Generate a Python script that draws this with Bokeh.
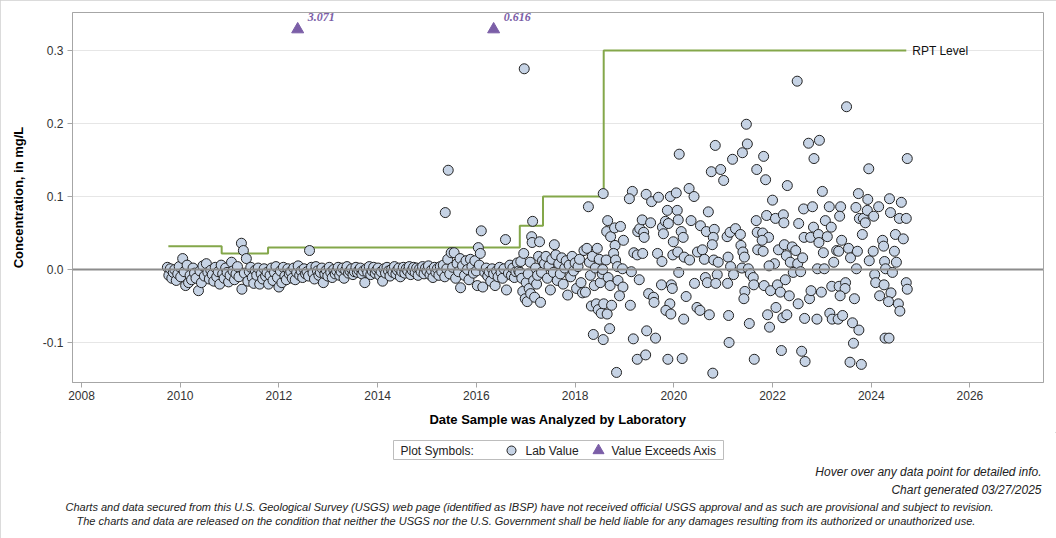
from bokeh.plotting import figure
from bokeh.models import Range1d, FixedTicker, PrintfTickFormatter, Span, Label, Title
from bokeh.layouts import column
from bokeh.core.properties import value
from bokeh.embed import file_html
from bokeh.resources import INLINE

FONT = "Liberation Sans"

# ---------------- data (decimal year, concentration mg/L) ----------------
early = [(2009.74, 0.003), (2009.77, -0.008), (2009.80, 0.001), (2009.83, -0.012), (2009.86, -0.004),
         (2009.89, 0.000), (2009.92, -0.015), (2009.95, -0.006), (2009.98, 0.004), (2010.01, -0.010),
         (2010.05, 0.015), (2010.08, -0.003), (2010.11, -0.022), (2010.14, 0.006), (2010.17, -0.018),
         (2010.20, -0.008), (2010.23, -0.014), (2010.26, 0.002), (2010.29, -0.005), (2010.32, -0.012),
         (2010.37, -0.029), (2010.40, -0.002), (2010.43, -0.018), (2010.46, 0.005), (2010.49, -0.009),
         (2010.53, 0.008), (2010.56, -0.004), (2010.59, -0.013), (2010.62, -0.001), (2010.65, -0.007),
         (2010.68, -0.016), (2010.71, 0.003), (2010.74, -0.010), (2010.77, -0.003), (2010.80, -0.020),
         (2010.83, 0.006), (2010.86, -0.006), (2010.89, -0.012), (2010.92, 0.002), (2010.95, -0.004),
         (2010.98, -0.017), (2011.01, -0.008), (2011.04, 0.010), (2011.07, -0.002), (2011.10, -0.014),
         (2011.13, -0.006), (2011.16, 0.004), (2011.19, -0.010), (2011.24, 0.036), (2011.25, -0.027),
         (2011.28, 0.026), (2011.30, -0.005), (2011.34, 0.015), (2011.37, -0.016), (2011.40, -0.003),
         (2011.43, 0.003), (2011.46, -0.011), (2011.49, -0.019), (2011.52, -0.001), (2011.55, -0.008),
         (2011.58, 0.002), (2011.61, -0.020), (2011.64, -0.006), (2011.67, -0.013), (2011.70, 0.001),
         (2011.73, -0.009), (2011.76, -0.004), (2011.79, -0.020)]

middle = [(2011.82, -0.008), (2011.85, 0.002), (2011.88, -0.015), (2011.91, -0.004), (2011.94, 0.004),
          (2011.97, -0.011), (2012.00, -0.024), (2012.03, -0.002), (2012.06, -0.018), (2012.09, 0.003),
          (2012.12, -0.009), (2012.15, -0.014), (2012.18, 0.001), (2012.21, -0.006), (2012.24, -0.003),
          (2012.27, -0.012), (2012.30, 0.002), (2012.33, -0.014), (2012.36, -0.004), (2012.39, 0.005),
          (2012.42, -0.008), (2012.45, -0.002), (2012.48, -0.011), (2012.51, 0.001), (2012.54, -0.006),
          (2012.57, -0.003), (2012.60, -0.009), (2012.62, 0.026), (2012.66, 0.003), (2012.69, -0.005),
          (2012.72, -0.013), (2012.75, 0.004), (2012.78, -0.002), (2012.81, -0.008), (2012.84, -0.004),
          (2012.87, 0.002), (2012.90, -0.018), (2012.93, -0.006), (2012.96, -0.001), (2012.99, -0.009),
          (2013.02, 0.003), (2013.05, -0.004), (2013.08, -0.011), (2013.11, 0.000), (2013.14, -0.006),
          (2013.17, -0.002), (2013.20, 0.003), (2013.23, -0.008), (2013.26, -0.003), (2013.29, 0.002),
          (2013.32, -0.012), (2013.35, -0.001), (2013.38, 0.004), (2013.41, -0.005), (2013.44, -0.002),
          (2013.47, 0.001), (2013.50, -0.007), (2013.53, -0.003), (2013.56, 0.003), (2013.59, -0.004),
          (2013.62, -0.001), (2013.65, 0.002), (2013.68, -0.006), (2013.71, -0.002), (2013.74, -0.018),
          (2013.77, 0.001), (2013.80, -0.004), (2013.83, 0.004), (2013.86, -0.007), (2013.89, -0.002),
          (2013.92, 0.003), (2013.95, -0.005), (2013.98, -0.001), (2014.01, 0.002), (2014.04, -0.008),
          (2014.07, -0.003), (2014.10, -0.016), (2014.13, 0.001), (2014.16, -0.005), (2014.19, 0.003),
          (2014.22, -0.002), (2014.25, -0.009), (2014.28, 0.000), (2014.31, -0.004), (2014.34, 0.004),
          (2014.37, -0.006), (2014.40, -0.001), (2014.43, 0.002), (2014.46, -0.010), (2014.49, -0.003),
          (2014.52, 0.003), (2014.55, -0.005), (2014.58, 0.001), (2014.61, -0.002), (2014.64, 0.004),
          (2014.67, -0.007), (2014.70, -0.001), (2014.73, 0.003), (2014.76, -0.004), (2014.79, 0.002),
          (2014.82, -0.008), (2014.85, 0.001), (2014.88, -0.003), (2014.91, 0.004), (2014.94, -0.006),
          (2014.97, 0.002), (2015.00, -0.002), (2015.03, 0.005), (2015.06, -0.007), (2015.09, -0.001),
          (2015.12, -0.011), (2015.15, 0.003), (2015.18, -0.004), (2015.21, 0.001), (2015.24, -0.008),
          (2015.27, 0.004), (2015.30, -0.003), (2015.33, 0.006), (2015.36, -0.010), (2015.37, 0.078),
          (2015.40, 0.001), (2015.42, 0.014), (2015.43, 0.136), (2015.46, -0.006), (2015.49, 0.023),
          (2015.52, 0.003), (2015.55, 0.023), (2015.58, -0.012), (2015.61, 0.008), (2015.64, -0.003),
          (2015.67, 0.015), (2015.68, -0.025), (2015.72, 0.005), (2015.76, -0.008), (2015.79, 0.012),
          (2015.82, 0.000), (2015.85, -0.014), (2015.88, 0.014), (2015.91, 0.004), (2015.94, -0.005),
          (2015.97, 0.012), (2016.00, -0.002), (2016.02, -0.022), (2016.04, 0.030), (2016.06, 0.006),
          (2016.08, 0.022), (2016.10, 0.053), (2016.13, -0.024), (2016.17, -0.004), (2016.20, 0.002),
          (2016.23, -0.009), (2016.26, -0.003), (2016.29, -0.016), (2016.32, 0.001), (2016.35, -0.006),
          (2016.38, -0.022), (2016.41, -0.002), (2016.44, -0.010), (2016.47, 0.003), (2016.50, -0.004),
          (2016.53, -0.012), (2016.56, 0.001), (2016.59, 0.041), (2016.61, -0.028), (2016.65, -0.005),
          (2016.68, 0.006), (2016.71, -0.008), (2016.74, 0.002), (2016.77, -0.011), (2016.80, -0.003),
          (2016.83, 0.009), (2016.86, -0.002)]

transition = [(2016.88, -0.004), (2016.90, 0.011), (2016.92, -0.012), (2016.94, -0.030), (2016.96, 0.022),
              (2016.97, 0.275), (2016.99, -0.040), (2017.01, -0.018), (2017.03, -0.044), (2017.05, -0.006),
              (2017.07, -0.026), (2017.09, 0.010), (2017.10, -0.033), (2017.12, 0.045), (2017.13, 0.037),
              (2017.14, 0.066), (2017.16, -0.015), (2017.18, -0.038), (2017.20, 0.002), (2017.22, -0.020),
              (2017.24, -0.008), (2017.26, 0.018), (2017.28, 0.038), (2017.30, -0.045), (2017.32, -0.004),
              (2017.34, 0.012), (2017.38, 0.008), (2017.41, 0.018), (2017.44, -0.012), (2017.47, 0.005),
              (2017.50, -0.028), (2017.53, 0.014), (2017.56, -0.004), (2017.58, 0.034), (2017.61, 0.020),
              (2017.64, -0.015), (2017.67, 0.008), (2017.70, -0.006), (2017.73, 0.016), (2017.76, -0.020),
              (2017.79, 0.002), (2017.82, 0.012), (2017.85, -0.035), (2017.88, 0.006), (2017.91, -0.010),
              (2017.94, 0.018), (2017.97, -0.002), (2018.00, 0.009), (2018.03, -0.026), (2018.06, 0.004),
              (2018.09, 0.014), (2018.12, -0.018), (2018.15, -0.032), (2018.18, 0.026), (2018.21, -0.031),
              (2018.24, 0.029), (2018.27, 0.086), (2018.29, 0.010), (2018.31, -0.008), (2018.33, -0.050),
              (2018.35, 0.018), (2018.37, -0.089), (2018.39, -0.022), (2018.41, 0.002), (2018.43, -0.047),
              (2018.45, 0.029), (2018.47, -0.055), (2018.49, 0.014), (2018.51, -0.018), (2018.53, -0.060),
              (2018.55, -0.006)]

recent_a = [(2018.57, 0.104), (2018.66, 0.067), (2018.64, 0.052), (2018.72, 0.045), (2018.80, 0.057),
            (2018.92, 0.059), (2018.81, 0.033), (2018.78, 0.022), (2018.63, 0.013), (2018.82, 0.013),
            (2018.86, 0.004), (2018.96, 0.001), (2018.56, 0.000), (2018.67, -0.011), (2018.71, -0.022),
            (2018.87, -0.015), (2018.97, -0.024), (2018.90, -0.036), (2018.58, -0.047), (2018.65, -0.061),
            (2018.74, -0.049), (2018.70, -0.081), (2018.57, -0.096), (2018.84, -0.141), (2018.98, 0.040),
            (2019.16, 0.107), (2019.10, 0.097), (2019.14, -0.003), (2019.12, -0.049), (2019.18, -0.095),
            (2019.19, 0.023), (2019.26, 0.020), (2019.27, 0.052), (2019.31, 0.056), (2019.37, 0.022),
            (2019.36, 0.068), (2019.39, 0.051), (2019.40, 0.044), (2019.30, -0.014), (2019.26, -0.123),
            (2019.43, -0.117), (2019.45, -0.084), (2019.44, 0.103), (2019.49, -0.033), (2019.53, 0.064),
            (2019.55, 0.093), (2019.59, -0.038), (2019.60, -0.045), (2019.63, -0.094), (2019.67, 0.022),
            (2019.69, 0.099), (2019.75, -0.021), (2019.77, 0.058), (2019.79, 0.049), (2019.83, 0.066),
            (2019.76, 0.011), (2019.87, 0.081), (2019.89, 0.063), (2019.93, 0.100), (2019.95, -0.021),
            (2019.97, -0.026), (2019.92, -0.047), (2019.84, -0.056), (2019.94, -0.061), (2019.88, -0.123),
            (2019.99, 0.038), (2019.98, 0.020), (2020.05, 0.105), (2020.07, 0.081), (2020.11, 0.158),
            (2020.09, 0.068), (2020.15, 0.052), (2020.19, 0.044), (2020.08, 0.024), (2020.10, -0.004),
            (2020.17, -0.122), (2020.20, -0.068), (2020.25, -0.037), (2020.21, 0.017), (2020.31, 0.111),
            (2020.32, 0.013), (2020.35, 0.067), (2020.41, 0.100), (2020.42, -0.019), (2020.47, -0.052),
            (2020.53, -0.056), (2020.48, 0.024), (2020.54, 0.060), (2020.58, 0.027), (2020.62, 0.014),
            (2020.64, -0.011), (2020.68, -0.018), (2020.66, 0.052), (2020.70, 0.079), (2020.76, 0.134),
            (2020.84, 0.170), (2020.82, 0.055), (2020.80, 0.044), (2020.78, 0.034), (2020.81, 0.013),
            (2020.90, 0.010), (2020.88, -0.007), (2020.85, -0.019), (2020.72, -0.062), (2020.79, -0.142),
            (2020.95, 0.137), (2021.01, 0.122), (2021.09, -0.019), (2021.11, -0.063), (2021.12, -0.100),
            (2021.08, 0.045), (2021.10, 0.017), (2021.15, 0.004), (2021.19, 0.151), (2021.14, 0.051),
            (2021.25, 0.056), (2021.35, 0.048), (2021.21, -0.007), (2021.36, 0.033), (2021.39, 0.160),
            (2021.40, 0.024), (2021.43, 0.017), (2021.38, 0.002), (2021.44, -0.030), (2021.42, -0.040),
            (2021.47, 0.199), (2021.49, 0.172), (2021.53, -0.074), (2021.51, 0.001), (2021.55, -0.006),
            (2021.61, -0.011), (2021.62, -0.021), (2021.68, 0.137), (2021.67, 0.067), (2021.70, 0.027),
            (2021.63, -0.123), (2021.69, 0.051)]

recent_b = [(2021.82, 0.155), (2021.86, 0.123), (2022.00, 0.095), (2021.88, 0.074), (2022.06, 0.070),
            (2022.22, 0.075), (2022.23, 0.064), (2022.30, 0.115), (2021.80, 0.050), (2021.92, 0.044),
            (2021.79, 0.040), (2021.81, 0.025), (2022.12, 0.027), (2022.24, 0.034), (2022.40, 0.031),
            (2022.47, 0.026), (2022.28, 0.019), (2022.36, 0.010), (2022.51, 0.008), (2022.61, 0.016),
            (2022.04, 0.008), (2021.93, 0.005), (2022.42, -0.004), (2022.57, -0.003), (2022.53, 0.063),
            (2022.63, 0.083), (2022.81, 0.086), (2022.64, 0.044), (2022.77, 0.044), (2022.83, 0.058),
            (2022.93, 0.048), (2022.94, 0.037), (2023.03, 0.023), (2023.07, 0.067), (2023.11, 0.045),
            (2023.19, 0.058), (2023.15, 0.086), (2023.24, 0.010), (2023.38, 0.086), (2023.36, 0.073),
            (2023.40, 0.040), (2023.30, 0.026), (2023.34, 0.025), (2023.54, 0.029), (2023.58, 0.016),
            (2023.72, 0.025), (2023.70, 0.001), (2022.91, 0.001), (2023.05, 0.001), (2022.84, 0.152),
            (2022.73, 0.173), (2022.95, 0.177), (2023.01, 0.107), (2022.50, 0.258), (2023.50, 0.223),
            (2023.74, 0.104), (2023.69, 0.085), (2023.76, 0.070), (2023.84, 0.070), (2023.88, 0.064),
            (2023.92, 0.081), (2023.93, 0.096), (2023.95, 0.138), (2024.05, 0.073), (2024.15, 0.086),
            (2023.82, 0.048), (2023.96, 0.012), (2024.04, 0.025), (2024.23, 0.040), (2024.25, 0.032),
            (2024.37, 0.097), (2024.39, 0.078), (2024.49, 0.048), (2024.65, 0.042), (2024.61, 0.092),
            (2024.57, 0.070), (2024.71, 0.070), (2024.73, 0.152), (2024.47, 0.025), (2024.51, 0.010),
            (2024.27, 0.011), (2024.29, 0.001), (2024.43, -0.004), (2024.07, -0.007), (2024.09, -0.018),
            (2024.26, -0.021), (2024.40, -0.032), (2024.17, -0.036), (2024.35, -0.044), (2024.55, -0.047),
            (2024.58, -0.057), (2024.71, -0.018), (2024.73, -0.027), (2024.28, -0.094), (2024.36, -0.094),
            (2021.83, -0.022), (2021.96, -0.029), (2022.10, -0.021), (2022.16, -0.031), (2022.26, -0.014),
            (2022.34, -0.036), (2022.52, -0.047), (2022.07, -0.052), (2021.90, -0.062), (2021.94, -0.079),
            (2022.21, -0.066), (2022.29, -0.062), (2022.65, -0.067), (2022.75, -0.040), (2022.78, -0.029),
            (2022.90, -0.068), (2022.99, -0.031), (2023.16, -0.060), (2023.21, -0.068), (2023.33, -0.068),
            (2023.42, -0.063), (2023.20, -0.023), (2023.35, -0.023), (2023.48, -0.018), (2023.47, -0.026),
            (2023.37, -0.036), (2023.66, -0.040), (2023.62, -0.073), (2023.75, -0.083), (2023.64, -0.101),
            (2022.18, -0.111), (2022.59, -0.112), (2022.66, -0.126), (2023.57, -0.127), (2023.80, -0.130)]

# values beyond the axis (plotted as triangles at top of axis)
exceed_dates = [2012.38, 2016.35]
exceed_values = [3.071, 0.616]

# reporting level (RPT) steps
rpt_dates = [2009.76, 2010.84, 2011.78, 2016.88, 2017.35, 2018.58, 2024.71]
rpt_levels = [0.032, 0.022, 0.030, 0.060, 0.100, 0.300]

x_ticks = [2008, 2010, 2012, 2014, 2016, 2018, 2020, 2022, 2024, 2026]
y_ticks = [-0.1, 0.0, 0.1, 0.2, 0.3]

# ---------------- main plot ----------------
all_pts = early + middle + transition + recent_a + recent_b
dates = [d for d, v in all_pts]
vals = [v for d, v in all_pts]

p = figure(width=1056, height=432, x_range=Range1d(2007.818, 2027.49),
           y_range=Range1d(-0.1548, 0.3521), output_backend="svg", toolbar_location=None,
           min_border_left=72, min_border_right=13, min_border_top=12, min_border_bottom=50,
           background_fill_color="white", border_fill_color="white")

p.outline_line_color = "#A6A6A6"
p.xgrid.visible = False
p.ygrid.grid_line_color = "#E6E6E6"
p.ygrid.grid_line_width = 1

p.xaxis.ticker = FixedTicker(ticks=x_ticks)
p.xaxis.formatter = PrintfTickFormatter(format="%d")
p.yaxis.ticker = FixedTicker(ticks=y_ticks)
p.yaxis.formatter = PrintfTickFormatter(format="%.1f")
for ax in (p.xaxis, p.yaxis):
    ax.axis_line_color = "#A6A6A6"
    ax.major_tick_line_color = "#A6A6A6"
    ax.minor_tick_line_color = None
    ax.major_tick_out = 5
    ax.major_tick_in = 0
    ax.major_label_text_font = FONT
    ax.major_label_text_font_size = "12px"
    ax.major_label_text_color = "#333333"
    ax.axis_label_text_font = FONT
    ax.axis_label_text_font_size = "13px"
    ax.axis_label_text_font_style = "bold"
    ax.axis_label_text_color = "#000000"
p.xaxis.axis_label = "Date Sample was Analyzed by Laboratory"
p.yaxis.axis_label = "Concentration, in mg/L"
p.xaxis.major_label_standoff = 3
p.xaxis.axis_label_standoff = 9
p.yaxis.major_label_standoff = 4
p.yaxis.axis_label_standoff = 14

p.add_layout(Span(location=0, dimension="width", line_color="#8C8C8C", line_width=2))

p.step(x=rpt_dates, y=rpt_levels + [rpt_levels[-1]], mode="after",
       line_color="#84A74A", line_width=2)
p.text(x=[rpt_dates[-1]], y=[rpt_levels[-1]], text=["RPT Level"], x_offset=6,
       text_baseline="middle", text_align="left", text_font=value(FONT),
       text_font_size="12px", text_color="#111111")

p.scatter(x=dates, y=vals, marker="circle", size=10, fill_color="#C6D3E5",
          line_color="#222222", line_width=1)

EXCEED_Y = 0.329
p.scatter(x=exceed_dates, y=[EXCEED_Y] * len(exceed_dates), marker="triangle", size=12,
          fill_color="#7B5EA7", line_color="#7B5EA7")
p.text(x=exceed_dates, y=[EXCEED_Y] * len(exceed_dates), text=[f"{v:.3f}" for v in exceed_values],
       x_offset=10, y_offset=-12, text_baseline="middle", text_font=value("Liberation Serif"),
       text_font_style="bold italic", text_font_size="12px", text_color="#7B5EA7")

# ---------------- legend (frame) + footer (titles below frame) ----------------
q = figure(width=1056, height=106, x_range=Range1d(72, 1043), y_range=Range1d(28, 0),
           output_backend="svg", toolbar_location=None,
           min_border_left=72, min_border_right=13, min_border_top=0, min_border_bottom=78,
           x_axis_type=None, y_axis_type=None, outline_line_color=None,
           background_fill_color="white", border_fill_color="white")
q.quad(left=[393], right=[723], top=[8], bottom=[27], fill_color="white", line_color="#BDBDBD")
q.scatter(x=[511], y=[18], marker="circle", size=9, fill_color="#C6D3E5", line_color="#222222")
q.scatter(x=[598], y=[18], marker="triangle", size=11, fill_color="#7B5EA7", line_color="#7B5EA7")

for tx, lx in (("Plot Symbols:", 400), ("Lab Value", 525), ("Value Exceeds Axis", 611)):
    q.add_layout(Label(x=lx, y=18, text=tx, text_baseline="middle", text_align="left",
                       text_font=FONT, text_font_size="12px", text_color="#222222"))

footer = [("Hover over any data point for detailed info.", "right", 2, 4, "12px"),
          ("Chart generated 03/27/2025", "right", 2, 1, "12px"),
          ("Charts and data secured from this U.S. Geological Survey (USGS) web page (identified as IBSP) have not received official USGS approval and as such are provisional and subject to revision.",
           "left", -7, 3, "11px"),
          ("The charts and data are released on the condition that neither the USGS nor the U.S. Government shall be held liable for any damages resulting from its authorized or unauthorized use.",
           "left", 4, -4, "11px")]
for tx, al, off, so, fs in footer:
    q.add_layout(Title(text=tx, align=al, offset=off, standoff=so, text_font=FONT,
                       text_font_style="italic", text_font_size=fs, text_color="#222222"), "below")

layout = column(p, q, spacing=0,
                styles={"outline": "1px solid #CFCFCF", "outline-offset": "-1px"})
open("out.html", "w").write(file_html(layout, INLINE))
